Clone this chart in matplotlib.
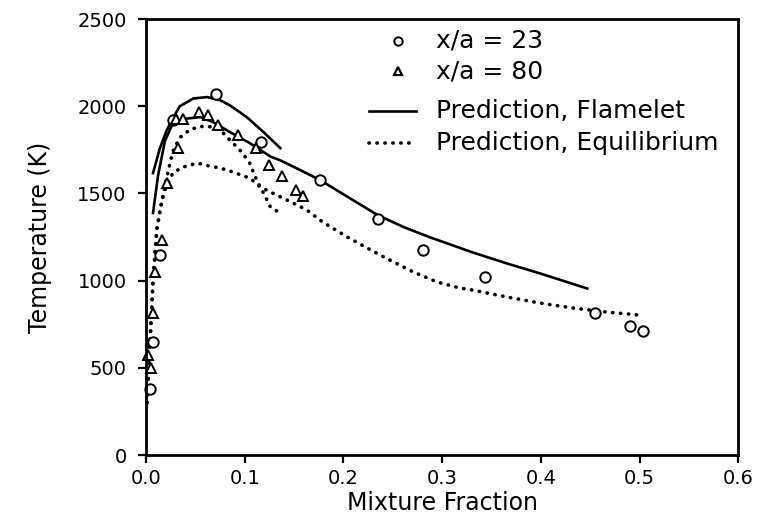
import matplotlib
matplotlib.use("Agg")
import matplotlib.pyplot as plt

circ_x = [0.004, 0.007, 0.014, 0.027, 0.071, 0.116, 0.176, 0.235, 0.281, 0.343, 0.455, 0.490, 0.504]
circ_y = [378, 648, 1147, 1921, 2070, 1795, 1577, 1353, 1175, 1021, 814, 740, 711]

tri_x = [0.002, 0.005, 0.007, 0.009, 0.016, 0.021, 0.030, 0.032, 0.037, 0.054, 0.063,
         0.073, 0.093, 0.111, 0.125, 0.138, 0.152, 0.159]
tri_y = [573, 499, 814, 1049, 1233, 1560, 1925, 1760, 1930, 1967, 1950,
         1892, 1835, 1760, 1663, 1600, 1520, 1485]

# flamelet predictions (solid)
flame23_x = [0.007, 0.014, 0.021, 0.028, 0.034, 0.048, 0.062, 0.075, 0.085, 0.102, 0.119, 0.136]
flame23_y = [1617, 1760, 1864, 1940, 2000, 2045, 2053, 2035, 2005, 1938, 1852, 1760]

flame80_x = [0.007, 0.012, 0.019, 0.026, 0.037, 0.055, 0.068, 0.085, 0.105, 0.126, 0.136,
             0.156, 0.176, 0.205, 0.235, 0.262, 0.288, 0.331, 0.366, 0.399, 0.447]
flame80_y = [1388, 1600, 1800, 1890, 1927, 1938, 1909, 1852, 1789, 1712, 1690,
             1635, 1578, 1478, 1375, 1305, 1248, 1162, 1098, 1042, 955]

# equilibrium predictions (dotted)
eq23_x = [0.001, 0.004, 0.007, 0.011, 0.016, 0.020, 0.027, 0.034, 0.045, 0.058, 0.068,
          0.075, 0.085, 0.097, 0.105, 0.112, 0.119, 0.126, 0.136]
eq23_y = [300, 650, 1000, 1300, 1460, 1570, 1740, 1820, 1869, 1886, 1881,
          1865, 1806, 1737, 1674, 1577, 1502, 1422, 1388]

eq80_x = [0.001, 0.004, 0.007, 0.011, 0.016, 0.019, 0.027, 0.037, 0.052, 0.062, 0.075,
          0.088, 0.102, 0.108, 0.113, 0.118, 0.126, 0.143, 0.163, 0.179, 0.204, 0.224,
          0.247, 0.271, 0.295, 0.318, 0.331, 0.366, 0.399, 0.433, 0.467, 0.500]
eq80_y = [300, 650, 1000, 1300, 1460, 1520, 1617, 1651, 1674, 1660, 1646,
          1623, 1594, 1575, 1548, 1531, 1508, 1462, 1405, 1336, 1250, 1187,
          1118, 1049, 992, 958, 946, 906, 872, 843, 820, 803]

xticks = [0.0, 0.1, 0.2, 0.3, 0.4, 0.5, 0.6]
yticks = [0, 500, 1000, 1500, 2000, 2500]

fig = plt.figure(figsize=(7.65, 5.31), dpi=100)
ax = fig.add_axes([0.191, 0.143, 0.774, 0.821])

dot = dict(color="black", lw=2.6, linestyle=(0, (0.1, 2.1)), dash_capstyle="round")
ax.plot(flame23_x, flame23_y, color="black", lw=1.9)
ax.plot(flame80_x, flame80_y, color="black", lw=1.9)
ax.plot(eq23_x, eq23_y, **dot)
ax.plot(eq80_x, eq80_y, **dot)

ax.plot(circ_x, circ_y, "o", ms=7.5, mfc="white", mec="black", mew=1.4, clip_on=False)
ax.plot(tri_x, tri_y, "^", ms=6.5, mfc="white", mec="black", mew=1.4, clip_on=False)

# hand-placed legend, as in the original
lx0, lx1, tx = 0.376, 0.455, 0.49
ax.plot([0.425], [0.95], "o", ms=6, mfc="white", mec="black", mew=1.4, transform=ax.transAxes)
ax.plot([0.425], [0.88], "^", ms=5.5, mfc="white", mec="black", mew=1.6, transform=ax.transAxes)
ax.plot([lx0, lx1], [0.79, 0.79], color="black", lw=1.9, transform=ax.transAxes)
ax.plot([lx0, lx1], [0.715, 0.715], transform=ax.transAxes, **dot)
for yy, s in [(0.95, "x/a = 23"), (0.88, "x/a = 80"),
              (0.79, "Prediction, Flamelet"), (0.715, "Prediction, Equilibrium")]:
    ax.text(tx, yy, s, transform=ax.transAxes, fontsize=18, va="center", ha="left")

ax.set_xlim(0, 0.6)
ax.set_ylim(0, 2500)
ax.set_xticks(xticks)
ax.set_xticklabels([f"{v:.1f}" for v in xticks], fontsize=14)
ax.set_yticks(yticks)
ax.set_yticklabels([str(v) for v in yticks], fontsize=14)
ax.tick_params(axis="y", direction="out", length=6, width=1.6, labelsize=14, pad=8)
ax.tick_params(axis="x", direction="out", length=6, width=1.6, labelsize=14, pad=4)
for sp in ax.spines.values():
    sp.set_linewidth(2.0)

ax.set_xlabel("Mixture Fraction", fontsize=17, labelpad=2)
ax.set_ylabel("Temperature (K)", fontsize=17, labelpad=18)

fig.savefig("out.png", dpi=100)
